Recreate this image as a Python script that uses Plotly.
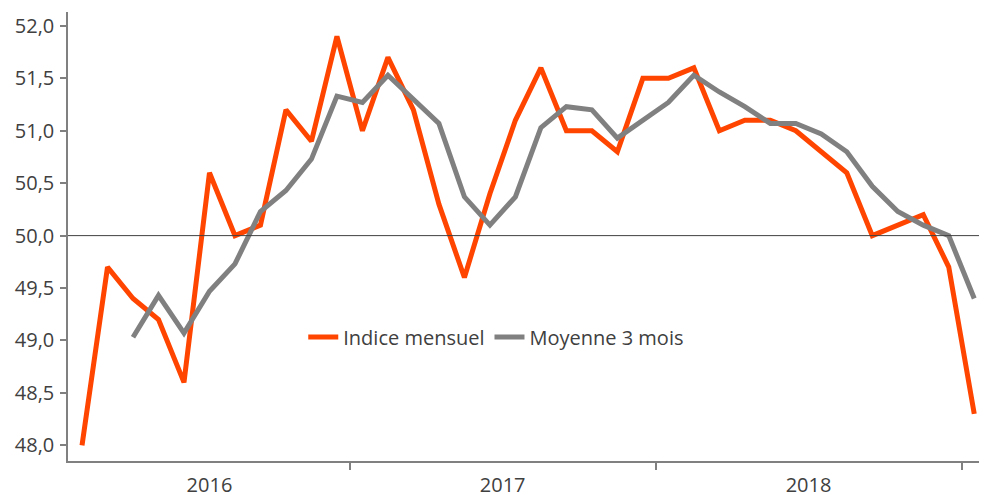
import plotly.graph_objects as go

months = ["2016-02", "2016-03", "2016-04", "2016-05", "2016-06", "2016-07", "2016-08", "2016-09",
          "2016-10", "2016-11", "2016-12", "2017-01", "2017-02", "2017-03", "2017-04", "2017-05",
          "2017-06", "2017-07", "2017-08", "2017-09", "2017-10", "2017-11", "2017-12", "2018-01",
          "2018-02", "2018-03", "2018-04", "2018-05", "2018-06", "2018-07", "2018-08", "2018-09",
          "2018-10", "2018-11", "2018-12", "2019-01"]
indice = [48.0, 49.7, 49.4, 49.2, 48.6, 50.6, 50.0, 50.1, 51.2, 50.9, 51.9, 51.0,
          51.7, 51.2, 50.3, 49.6, 50.4, 51.1, 51.6, 51.0, 51.0, 50.8, 51.5, 51.5,
          51.6, 51.0, 51.1, 51.1, 51.0, 50.8, 50.6, 50.0, 50.1, 50.2, 49.7, 48.3]
moyenne = [None, None, 49.03, 49.43, 49.07, 49.47, 49.73, 50.23, 50.43, 50.73, 51.33, 51.27,
           51.53, 51.30, 51.07, 50.37, 50.10, 50.37, 51.03, 51.23, 51.20, 50.93, 51.10, 51.27,
           51.53, 51.37, 51.23, 51.07, 51.07, 50.97, 50.80, 50.47, 50.23, 50.10, 50.00, 49.40]
year_labels = ["2016", "2017", "2018"]
year_centers = [5, 16.5, 28.5]
year_bounds = [10.5, 22.5, 34.5]
y_ticks = [48.0, 48.5, 49.0, 49.5, 50.0, 50.5, 51.0, 51.5, 52.0]

x = list(range(len(months)))
font_family = "'Open Sans', sans-serif"

fig = go.Figure()
fig.add_trace(go.Scatter(x=x, y=indice, mode="lines", name="Indice mensuel",
                         line=dict(color="#FF4500", width=5), customdata=months))
fig.add_trace(go.Scatter(x=x, y=moyenne, mode="lines", name="Moyenne 3 mois",
                         line=dict(color="#808080", width=5), customdata=months))

fig.add_hline(y=50, line=dict(color="#404040", width=1))

# page body adds an 8px offset, so the figure is 8px smaller than the window
fig.update_layout(
    width=979, height=487,
    margin=dict(l=60, r=0, t=4, b=34),
    paper_bgcolor="white", plot_bgcolor="white",
    font=dict(family=font_family, size=20, color="#404040"),
    showlegend=True,
    legend=dict(orientation="h", x=0.466, y=0.276, xanchor="center", yanchor="middle",
                font=dict(size=20, color="#404040"), bgcolor="rgba(0,0,0,0)",
                itemwidth=30, tracegroupgap=0),
    xaxis=dict(range=[-0.55, 35.5], showgrid=False, zeroline=False, automargin=False,
               showline=True, linecolor="#808080", linewidth=2,
               tickmode="array", tickvals=year_centers, ticktext=year_labels,
               ticks="", ticklabelstandoff=5,
               minor=dict(tickmode="array", tickvals=year_bounds, ticks="outside",
                          ticklen=7, tickwidth=2, tickcolor="#808080")),
    yaxis=dict(range=[47.85, 52.133], showgrid=False, zeroline=False, automargin=False,
               showline=True, linecolor="#808080", linewidth=1.5,
               tickmode="array", tickvals=y_ticks,
               ticktext=[f"{v:.1f}".replace(".", ",") for v in y_ticks],
               ticks="outside", ticklen=6, tickcolor="#808080", tickwidth=1.5,
               ticklabelstandoff=2),
)

fig.write_html("out.html")
